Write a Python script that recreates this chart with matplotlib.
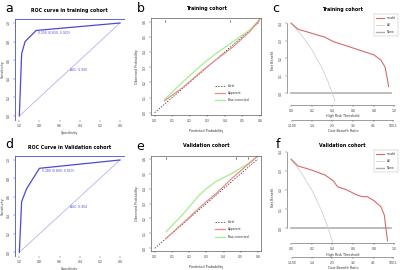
import matplotlib
matplotlib.use("Agg")
import matplotlib.pyplot as plt
from matplotlib.lines import Line2D

plt.rcParams['font.family'] = ['DejaVu Sans']

# ---------------- data ----------------
# ROC (specificity, sensitivity)
roc_train_spec = [1.0, 0.977, 0.943, 0.833, 0.0]
roc_train_sens = [0.0, 0.67, 0.80, 0.92, 1.0]
roc_train_thr_label = "0.256 (0.830, 0.920)"
roc_train_auc_label = "AUC: 0.926"
roc_valid_spec = [1.0, 0.977, 0.927, 0.80, 0.0]
roc_valid_sens = [0.0, 0.55, 0.69, 0.91, 1.0]
roc_valid_thr_label = "0.280 (0.800, 0.910)"
roc_valid_auc_label = "AUC: 0.904"
roc_ticks = [1.0, 0.8, 0.6, 0.4, 0.2, 0.0]
roc_yticks = [0.0, 0.2, 0.4, 0.6, 0.8, 1.0]

# Calibration
cal_ticks = [0.0, 0.1, 0.2, 0.3, 0.4, 0.5, 0.6]
ideal = [0.0, 0.6]
cal_train_pred = [0.057, 0.162, 0.257, 0.30, 0.352, 0.448, 0.543, 0.60]
cal_train_app = [0.079, 0.167, 0.262, 0.303, 0.350, 0.435, 0.535, 0.615]
cal_train_bc = [0.088, 0.204, 0.303, 0.345, 0.391, 0.468, 0.545, 0.615]
cal_train_rug = [0.06, 0.43]
cal_valid_pred = [0.067, 0.16, 0.26, 0.30, 0.355, 0.45, 0.545, 0.60]
cal_valid_app = [0.067, 0.165, 0.272, 0.313, 0.365, 0.47, 0.565, 0.62]
cal_valid_bc = [0.112, 0.224, 0.358, 0.40, 0.447, 0.503, 0.570, 0.62]
cal_valid_rug = [0.067, 0.47, 0.54]

# Decision curves
dca_xticks = [0.0, 0.2, 0.4, 0.6, 0.8, 1.0]
cb_ticks = [0.0099, 0.2, 0.4, 0.6, 0.8, 0.99]
cb_labels = ["1:100", "1:4", "2:3", "3:2", "4:1", "100:1"]
none_thr = [0.0, 0.97]
none_nb = [0.0, 0.0]

dca_train_thr = [0.0, 0.066, 0.197, 0.328, 0.41, 0.51, 0.607, 0.705, 0.803, 0.869, 0.908, 0.928, 0.944]
dca_train_nb = [0.40, 0.366, 0.343, 0.32, 0.295, 0.276, 0.257, 0.238, 0.219, 0.19, 0.152, 0.095, 0.038]
all_train_thr = [0.0, 0.1, 0.2, 0.3, 0.35, 0.4, 0.426]
all_train_nb = [0.40, 0.333, 0.25, 0.143, 0.077, 0.0, -0.045]
dca_train_yticks = [0.0, 0.1, 0.2, 0.3, 0.4]

dca_valid_thr = [0.0, 0.066, 0.197, 0.328, 0.41, 0.449, 0.541, 0.623, 0.689, 0.738, 0.803, 0.869, 0.902, 0.918, 0.934]
dca_valid_nb = [0.36, 0.325, 0.304, 0.278, 0.247, 0.217, 0.20, 0.177, 0.165, 0.165, 0.144, 0.113, 0.07, 0.0, -0.066]
all_valid_thr = [0.0, 0.1, 0.2, 0.3, 0.36, 0.41]
all_valid_nb = [0.36, 0.289, 0.2, 0.086, 0.0, -0.085]
dca_valid_yticks = [0.0, 0.1, 0.2, 0.3, 0.4]

# ---------------- layout ----------------
W, H = 400, 270
fig = plt.figure(figsize=(W / 100, H / 100), dpi=100)


def rect(l, r, t, b):
    return [l / W, 1 - b / H, (r - l) / W, (b - t) / H]


TICK_FS = 2.2
LAB_FS = 2.4
TITLE_FS = 3.4
LETTER_FS = 9
LEG_FS = 2.2

ROC_COL = '#4a4ad6'
DIAG_COL = '#b4b4ee'
APP_COL = '#ee8a8a'
BC_COL = '#a6ee8c'
MODEL_COL = '#d66a6a'
ALL_COL = '#d0d0d0'
NONE_COL = '#b0b0b0'
TXT_COL = '#333333'


def style_ticks(ax):
    ax.tick_params(labelsize=TICK_FS, length=1.5, width=0.3, pad=1.5, colors='#555555',
                   labelcolor=TXT_COL)


def roc_panel(pos, spec, sens, thr_label, auc_label, title):
    ax = fig.add_axes(rect(*pos))
    ax.plot([1.0, 0.0], [0.0, 1.0], color=DIAG_COL, lw=0.6)
    ax.plot(spec, sens, color=ROC_COL, lw=0.9)
    ax.annotate(thr_label, (spec[3], sens[3]), xytext=(1.5, -2.0), textcoords='offset points',
                fontsize=2.2, color=ROC_COL, va='center', ha='left')
    ax.text(0.5, 0.49, auc_label, fontsize=2.2, color=ROC_COL, ha='left', va='center')
    ax.set_xlim(1.04, -0.04)
    ax.set_ylim(-0.04, 1.04)
    ax.set_xticks(roc_ticks)
    ax.set_yticks(roc_yticks)
    ax.set_xticklabels([f"{v:.1f}" for v in roc_ticks])
    ax.set_yticklabels([f"{v:.1f}" for v in roc_yticks], rotation=90, va='center')
    for s in ['right', 'bottom']:
        ax.spines[s].set_visible(False)
    for s in ['left', 'top']:
        ax.spines[s].set_color(ROC_COL)
        ax.spines[s].set_linewidth(0.6)
    style_ticks(ax)
    ax.set_xlabel("Specificity", fontsize=LAB_FS, labelpad=2, color=TXT_COL)
    ax.set_ylabel("Sensitivity", fontsize=LAB_FS, labelpad=2, color=TXT_COL)
    ax.set_title(title, fontsize=TITLE_FS, fontweight='bold', pad=5.5)
    return ax


def cal_panel(pos, pred, app, bc, rug, title, xlim, ylim):
    ax = fig.add_axes(rect(*pos))
    ax.plot(ideal, ideal, color='#222222', lw=0.5, ls=(0, (2, 2)))
    ax.plot(pred, bc, color=BC_COL, lw=0.9)
    ax.plot(pred, app, color=APP_COL, lw=0.9)
    ax.plot(rug, [0.605] * len(rug), ls='none', marker='|', ms=2, mew=0.6, color='#555555')
    ax.set_xlim(*xlim)
    ax.set_ylim(*ylim)
    ax.set_xticks(cal_ticks)
    ax.set_yticks(cal_ticks)
    ax.set_xticklabels([f"{v:.1f}" for v in cal_ticks])
    ax.set_yticklabels([f"{v:.1f}" for v in cal_ticks], rotation=90, va='center')
    for s in ax.spines.values():
        s.set_linewidth(0.4)
        s.set_color('#333333')
    style_ticks(ax)
    ax.set_xlabel("Predicted Probability", fontsize=LAB_FS, labelpad=4, color=TXT_COL)
    ax.set_ylabel("Observed Probability", fontsize=LAB_FS, labelpad=3, color=TXT_COL)
    ax.set_title(title, fontsize=TITLE_FS, fontweight='bold', pad=6)
    handles = [Line2D([], [], color='#222222', lw=0.5, ls=(0, (2, 2))),
               Line2D([], [], color=APP_COL, lw=0.9),
               Line2D([], [], color=BC_COL, lw=0.9)]
    ax.legend(handles, ["Ideal", "Apparent", "Bias-corrected"], loc='upper left',
              bbox_to_anchor=(0.57, 0.34), frameon=False, fontsize=LEG_FS,
              handlelength=3.2, labelspacing=1.1, handletextpad=1.0, borderpad=0,
              labelcolor=TXT_COL)
    return ax


def dca_panel(pos, thr, nb, all_thr, all_nb, yticks, title, ylim, outward):
    ax = fig.add_axes(rect(*pos))
    ax.plot(none_thr, none_nb, color=NONE_COL, lw=1.2)
    ax.plot(all_thr, all_nb, color=ALL_COL, lw=0.6)
    ax.plot(thr, nb, color=MODEL_COL, lw=0.8)
    ax.set_xlim(-0.04, 1.04)
    ax.set_ylim(*ylim)
    ax.set_xticks(dca_xticks)
    ax.set_xticklabels([f"{v:.1f}" for v in dca_xticks])
    ax.set_yticks(yticks)
    ax.set_yticklabels([f"{v:.1f}" for v in yticks], rotation=90, va='center')
    for s in ['top', 'right']:
        ax.spines[s].set_visible(False)
    ax.spines['left'].set_bounds(yticks[0], yticks[-1])
    ax.spines['bottom'].set_bounds(dca_xticks[0], dca_xticks[-1])
    for s in ['left', 'bottom']:
        ax.spines[s].set_linewidth(0.4)
        ax.spines[s].set_color('#555555')
    style_ticks(ax)
    ax.set_xlabel("High Risk Threshold", fontsize=LAB_FS, labelpad=0.8, color=TXT_COL)
    ax.set_ylabel("Net Benefit", fontsize=LAB_FS, labelpad=2.5, color=TXT_COL)
    ax.set_title(title, fontsize=TITLE_FS, fontweight='bold', pad=3)
    ax2 = ax.twiny()
    ax2.set_xlim(ax.get_xlim())
    ax2.xaxis.set_ticks_position('bottom')
    ax2.xaxis.set_label_position('bottom')
    ax2.spines['bottom'].set_position(('outward', outward))
    for s in ['top', 'right', 'left']:
        ax2.spines[s].set_visible(False)
    ax2.spines['bottom'].set_linewidth(0.4)
    ax2.spines['bottom'].set_color('#555555')
    ax2.spines['bottom'].set_bounds(cb_ticks[0], cb_ticks[-1])
    ax2.set_xticks(cb_ticks)
    ax2.set_xticklabels(cb_labels)
    style_ticks(ax2)
    ax2.set_xlabel("Cost:Benefit Ratio", fontsize=LAB_FS, labelpad=0.8, color=TXT_COL)
    handles = [Line2D([], [], color=MODEL_COL, lw=0.8),
               Line2D([], [], color=ALL_COL, lw=0.6),
               Line2D([], [], color=NONE_COL, lw=1.0)]
    leg = ax.legend(handles, ["model", "All", "None"], loc='upper right',
                    bbox_to_anchor=(1.01, 1.03), fontsize=LEG_FS, frameon=True, fancybox=False,
                    handlelength=2.4, labelspacing=1.0, borderpad=0.7, handletextpad=1.0,
                    labelcolor=TXT_COL)
    leg.get_frame().set_linewidth(0.3)
    leg.get_frame().set_edgecolor('#999999')
    return ax


roc_panel((15.3, 124, 19.3, 119.7), roc_train_spec, roc_train_sens, roc_train_thr_label,
          roc_train_auc_label, "ROC curve in training cohort")
roc_panel((15.3, 124, 156.3, 256), roc_valid_spec, roc_valid_sens, roc_valid_thr_label,
          roc_valid_auc_label, "ROC Curve in Validation cohort")

cal_panel((151.3, 261, 18.3, 115), cal_train_pred, cal_train_app, cal_train_bc, cal_train_rug,
          "Training cohort", (-0.019, 0.607), (-0.015, 0.622))
cal_panel((151.3, 260.7, 155.7, 251), cal_valid_pred, cal_valid_app, cal_valid_bc, cal_valid_rug,
          "Validation cohort", (-0.02, 0.616), (-0.018, 0.621))

dca_panel((287, 398.5, 15, 105), dca_train_thr, dca_train_nb, all_train_thr, all_train_nb,
          dca_train_yticks, "Training cohort", (-0.067, 0.447), 10.5)
dca_panel((287, 398.5, 151, 243.3), dca_valid_thr, dca_valid_nb, all_valid_thr, all_valid_nb,
          dca_valid_yticks, "Validation cohort", (-0.078, 0.403), 10)

# panel letters
for letter, x, y in [("a", 9, 9), ("b", 141, 9), ("c", 276, 9),
                     ("d", 9, 145), ("e", 140, 146), ("f", 278, 144)]:
    fig.text(x / W, 1 - y / H, letter, fontsize=LETTER_FS, ha='center', va='center')

fig.savefig("out.png", dpi=100)
